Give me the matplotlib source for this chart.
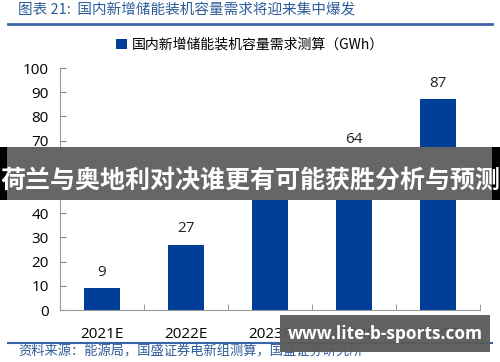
import matplotlib
matplotlib.use("Agg")
import matplotlib.pyplot as plt
from matplotlib.patches import Rectangle

plt.rcParams['font.family'] = ['Noto Sans CJK SC', 'DejaVu Sans']

categories = ['2021E', '2022E', '2023E', '2024E', '2025E']
values = [9, 27, 47, 64, 87]
yticks = [0, 10, 20, 30, 40, 50, 60, 70, 80, 90, 100]
title = '图表 21:  国内新增储能装机容量需求将迎来集中爆发'
legend_label = '国内新增储能装机容量需求测算（GWh）'
source = '资料来源：能源局，国盛证券电新组测算，国盛证券研究所'
banner = '荷兰与奥地利对决谁更有可能获胜分析与预测'
watermark = 'www.lite-b-sports.com'

W, H = 500, 362
fig = plt.figure(figsize=(W/100, H/100), dpi=100)
ax = fig.add_axes([60/W, 1-310/H, 420/W, (310-68)/H])

bar_color = '#003f98'
x = list(range(len(categories)))
bars = ax.bar(x, values, width=0.44, color=bar_color, label=legend_label)
for xi, v in zip(x, values):
    ax.text(xi, v + 3.5, str(v), ha='center', va='bottom', fontsize=11, color='#222222',
            family=['Open Sans', 'DejaVu Sans'])

ax.set_xlim(-0.5, len(categories) - 0.5)
ax.set_ylim(0, 100)
ax.set_yticks(yticks)
ax.set_yticklabels([str(t) for t in yticks], fontsize=11, family=['Open Sans', 'DejaVu Sans'])
ax.set_xticks(x)
ax.set_xticklabels(categories, fontsize=11, family=['Open Sans', 'DejaVu Sans'])
ax.set_xticks([i + 0.5 for i in x[:-1]] + [-0.5, len(categories) - 0.5], minor=True)
ax.tick_params(axis='x', which='major', length=0, pad=12)
ax.tick_params(axis='x', which='minor', length=4, direction='in', color='#888888')
ax.tick_params(axis='y', length=4, direction='in', color='#888888', pad=8)
for s in ['top', 'right']:
    ax.spines[s].set_visible(False)
for s in ['left', 'bottom']:
    ax.spines[s].set_color('#999999')
    ax.spines[s].set_linewidth(0.8)

# header / footer
blue = '#2e5c9a'
fig.text(18/W, 1-10/H, title, fontsize=10.5, color=blue, va='center', ha='left')
fig.add_artist(plt.Line2D([8/W, 492/W], [1-24/H, 1-24/H], color='#3a64a8', lw=2))
fig.legend(handles=[bars], labels=[legend_label], loc='center', bbox_to_anchor=(0.5, 1-45/H),
           frameon=False, fontsize=10, handlelength=0.8, handleheight=0.8, handletextpad=0.3)
fig.add_artist(plt.Line2D([8/W, 492/W], [1-343/H, 1-343/H], color='#3a64a8', lw=1.5))
fig.text(18/W, 1-352/H, source, fontsize=9.5, color=blue, va='center', ha='left')

# overlays
fig.add_artist(Rectangle((0, 1-200/H), 1, 53/H, transform=fig.transFigure,
                         facecolor='black', edgecolor='none', zorder=10))
fig.add_artist(Rectangle((7/W, 1-200/H), 485/W, 53/H, transform=fig.transFigure,
                         facecolor='#6a6a6a', edgecolor='none', alpha=0.97, zorder=11))
fig.text(0.5, 1-181/H, banner, fontsize=18, color='white', fontweight='bold',
         ha='center', va='center', zorder=12)
fig.add_artist(Rectangle((280/W, 1-352/H), 210/W, 37/H, transform=fig.transFigure,
                         facecolor='#5a5a5a', edgecolor='none', alpha=0.95, zorder=10))
fig.text(385/W, 1-334/H, watermark, fontsize=12.5, color='white', fontweight='bold',
         ha='center', va='center', zorder=12, family=['Open Sans', 'DejaVu Sans'])

fig.savefig('out.png', dpi=100)
